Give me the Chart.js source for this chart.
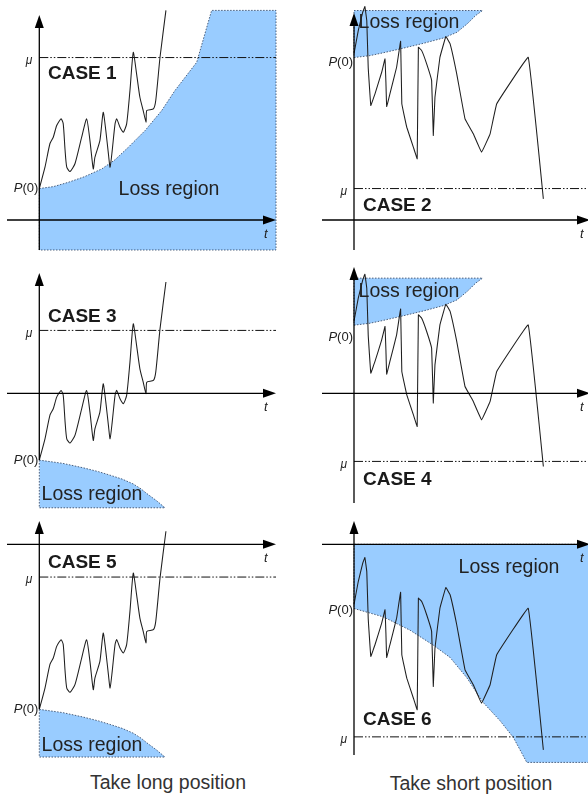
<!DOCTYPE html>
<html><head><meta charset="utf-8">
<script src="https://cdn.jsdelivr.net/npm/chart.js@4.4.1/dist/chart.umd.min.js"></script>
<style>
html,body{margin:0;padding:0;background:#fff;width:588px;height:794px;overflow:hidden;position:relative;font-family:"Liberation Sans",Arial,sans-serif;}
canvas{position:absolute;}
.cap{position:absolute;font-size:19.5px;color:#333;transform:translate(-50%,-50%);white-space:nowrap;}
</style></head><body>
<div class="cap" style="left:168px;top:782px">Take long position</div>
<div class="cap" style="left:471px;top:783px">Take short position</div>
<script>
// ---------- DATA ----------
const caseNames = ["CASE 1","CASE 2","CASE 3","CASE 4","CASE 5","CASE 6"];
const positionSide = ["long","short","long","short","long","short"];
// P(0) and mu, in price units measured from the t axis (price = 0)
const p0Values = [2.4, 12.4, -5.1, 5.2, -12.6, -4.9];
const muValues = [12.4, 2.4, 4.8, -5.2, -2.5, -14.7];
const tickLabelMu = "μ";
const tickLabelT = "t";
const lossLabel = "Loss region";

// Sketched price path for the long position (time, change from P(0))
const longT  = [0,2.4,4.5,5.9,7.35,9.2,10.1,10.9,11.6,13.0,15.1,17.9,20.0,21.4,22.8,23.5,25.6,27.0,28.1,29.2,29.9,30.8,32.0,32.7,34.1,35.5,36.9,38.3,39.7,41.1,42.5,43.9,45.1,45.4,48.2,49.2,51.0,53.5];
const longDP = [0,1.63,3.44,3.92,4.81,5.32,4.96,2.9,1.63,1.30,1.91,3.92,5.32,3.66,1.5,2.39,3.66,5.82,4.43,2.65,1.63,2.9,4.94,5.32,4.68,4.3,4.94,7.48,10.4,8.76,6.97,5.95,5.06,5.95,6.08,6.72,10.02,13.6];
// Sketched price path for the short position
const shortT  = [0,1.8,3.7,4.6,5.4,6.0,7.1,8.9,11.7,13.1,13.5,13.8,15.2,18.0,19.7,20.2,22.3,25.1,26.7,27.2,28.6,30.7,32.8,33.5,34.2,36.3,38.8,40.6,43.4,46.9,50.4,53.9,57.5,60.3,73.6,80.0];
const shortDP = [0.3,2.06,3.46,3.89,2.82,-0.74,-3.66,-2.75,-1.12,-0.1,-1.98,-3.74,-2.75,-0.74,1.24,-3.53,-5.32,-6.85,-7.73,0.79,0.53,-0.48,-1.76,-5.95,-3.03,0.02,1.6,1.05,-1.24,-4.68,-5.82,-7.23,-5.82,-3.53,0.02,-10.79];

// Loss region boundaries (time, change from P(0))
const lossUpLongT  = [0,6,12.3,19,26.4,32,37.6,44.7,51.7,57.3,66.5,72.8,100];
const lossUpLongDP = [0,0.15,0.48,0.9,1.5,2.2,3.15,4.43,5.95,7.48,9.64,13.6,13.6];
const lossDownLongT  = [0,10,18.6,25,29.9,35,39.7,43,45.4,49.6,53.1];
const lossDownLongDP = [0,-0.25,-0.59,-0.88,-1.15,-1.45,-1.82,-2.2,-2.55,-3.11,-3.64];
const lossUpShortT  = [0,6.8,12,19.5,29.4,37.9,43.5,47.8,51.4,54.3];
const lossUpShortDP = [0,0.15,0.35,0.66,1.09,1.5,1.93,2.57,3.21,3.59];
const lossDownShortT  = [0,12.4,23.7,33.5,40.6,47.6,54.6,61.7,67.3,73.0,100];
const lossDownShortDP = [0,-0.64,-1.66,-2.8,-3.74,-5.27,-7.18,-8.57,-9.84,-11.75,-11.75];
const lossKind = ["upLong","upShort","downLong","upShort","downLong","downShort"];
const lossFillTo = [-2.29, 15.99, -8.74, 8.79, -16.24, 0];

// ---------- LAYOUT (pixels) ----------
const LAYOUT = [
  {x:0,  y:0,   w:290,h:258, yAxisX:39.3, xAxisY:220,   yTop:15,  yBot:250, xLeft:7,   xTip:276, cx:48, cy:74,  lx:169, ly:190, pdy:0},
  {x:300,y:0,   w:288,h:258, yAxisX:354,  xAxisY:220,   yTop:13,  yBot:250, xLeft:322, xTip:590, cx:363,cy:206, lx:409, ly:23,  pdy:5},
  {x:0,  y:258, w:290,h:258, yAxisX:39.3, xAxisY:393.3, yTop:273, yBot:460, xLeft:7,   xTip:276, cx:48, cy:317, lx:92,  ly:495, pdy:0},
  {x:300,y:258, w:288,h:258, yAxisX:354,  xAxisY:393.3, yTop:267, yBot:503, xLeft:322, xTip:590, cx:363,cy:480, lx:409, ly:292, pdy:12},
  {x:0,  y:516, w:290,h:252, yAxisX:39.3, xAxisY:544.3, yTop:521, yBot:709, xLeft:7,   xTip:276, cx:48, cy:563, lx:92,  ly:746, pdy:0},
  {x:300,y:516, w:288,h:252, yAxisX:354,  xAxisY:544.3, yTop:521, yBot:755, xLeft:322, xTip:590, cx:363,cy:720, lx:509, ly:568, pdy:2}
];
const SX = 2.367, SY = 13.1;
const FONT = '"Liberation Sans", Arial, sans-serif';

function lossArrays(kind){
  if (kind==="upLong") return [lossUpLongT, lossUpLongDP];
  if (kind==="downLong") return [lossDownLongT, lossDownLongDP];
  if (kind==="upShort") return [lossUpShortT, lossUpShortDP];
  return [lossDownShortT, lossDownShortDP];
}

function makePanel(i){
  const L = LAYOUT[i];
  const cv = document.createElement('canvas');
  cv.width = L.w; cv.height = L.h;
  cv.style.left = L.x+'px'; cv.style.top = L.y+'px';
  cv.style.width = L.w+'px'; cv.style.height = L.h+'px';
  document.body.appendChild(cv);

  const p0 = p0Values[i], mu = muValues[i];
  const [lt, ldp] = lossArrays(lossKind[i]);
  const boundary = lt.map((t,k)=>({x:t, y:p0+ldp[k]}));
  const fillTo = lossFillTo[i];
  const lastT = lt[lt.length-1];
  const outline = boundary.concat([{x:lastT,y:fillTo},{x:0,y:fillTo},{x:0,y:p0}]);
  const pt = positionSide[i]==="long" ? longT : shortT;
  const pdp = positionSide[i]==="long" ? longDP : shortDP;
  const path = pt.map((t,k)=>({x:t, y:p0+pdp[k]}));

  const deco = {
    id:'deco'+i,
    afterDatasetsDraw(chart){
      const ctx = chart.ctx;
      const xs = chart.scales.x, ys = chart.scales.y;
      const ax = xs.getPixelForValue(0), ay = ys.getPixelForValue(0);
      const yTop = L.yTop - L.y, yBot = L.yBot - L.y;
      const xLeft = L.xLeft - L.x, xTip = L.xTip - L.x;
      ctx.save();
      ctx.strokeStyle = '#000'; ctx.fillStyle = '#000'; ctx.lineWidth = 1.3;
      // y axis
      ctx.beginPath(); ctx.moveTo(ax, yBot); ctx.lineTo(ax, yTop+10); ctx.stroke();
      ctx.beginPath(); ctx.moveTo(ax, yTop); ctx.lineTo(ax-4.5, yTop+13); ctx.lineTo(ax+4.5, yTop+13); ctx.closePath(); ctx.fill();
      // x axis
      ctx.beginPath(); ctx.moveTo(xLeft, ay); ctx.lineTo(xTip-10, ay); ctx.stroke();
      ctx.beginPath(); ctx.moveTo(xTip, ay); ctx.lineTo(xTip-13, ay-4.5); ctx.lineTo(xTip-13, ay+4.5); ctx.closePath(); ctx.fill();
      // labels
      ctx.fillStyle = '#222';
      ctx.textBaseline = 'middle';
      // t
      ctx.font = 'italic 13px '+FONT; ctx.textAlign = 'left';
      const tx = positionSide[i]==="long" ? 264 : L.w - 8;
      ctx.fillText(tickLabelT, tx, ay + 14);
      // mu
      const muY = ys.getPixelForValue(mu);
      ctx.font = 'italic 12px '+FONT; ctx.textAlign = 'right';
      ctx.fillText(tickLabelMu, ax - 7, muY + 3);
      // P(0)
      const pY = ys.getPixelForValue(p0) + L.pdy;
      ctx.font = '13px '+FONT; ctx.textAlign = 'right';
      const rx = ax - 1;
      ctx.fillText('(0)', rx, pY);
      const w0 = ctx.measureText('(0)').width;
      ctx.font = 'italic 13px '+FONT;
      ctx.fillText('P', rx - w0, pY);
      // CASE
      ctx.fillStyle = '#1a1a1a';
      ctx.font = 'bold 19px '+FONT; ctx.textAlign = 'left';
      ctx.fillText(caseNames[i], L.cx - L.x, L.cy - L.y);
      // Loss region
      ctx.fillStyle = '#222';
      ctx.font = '19.5px '+FONT; ctx.textAlign = 'center';
      ctx.fillText(lossLabel, L.lx - L.x, L.ly - L.y);
      ctx.restore();
    }
  };

  new Chart(cv, {
    type: 'scatter',
    data: { datasets: [
      { data: path, showLine: true, borderColor: '#1e1e1e', borderWidth: 1.05, pointRadius: 0,
        tension: positionSide[i]==="long" ? 0.2 : 0.05, fill: false, order: 1 },
      { data: [{x:0,y:mu},{x:100,y:mu}], showLine: true, borderColor: '#111', borderWidth: 1,
        borderDash: [9,2,1.5,2,1.5,2], pointRadius: 0, fill: false, order: 2 },
      { data: outline, showLine: true, borderColor: 'rgba(60,80,110,0.9)', borderWidth: 1,
        borderDash: [1.5,1.5], pointRadius: 0, fill: false, order: 3 },
      { data: boundary, showLine: true, borderColor: 'rgba(0,0,0,0)', borderWidth: 0, pointRadius: 0,
        backgroundColor: '#99ccff', fill: {value: fillTo}, order: 4 }
    ]},
    options: {
      responsive: false, animation: false, devicePixelRatio: 1, events: [],
      layout: { padding: 0 },
      plugins: { legend: {display:false}, tooltip: {enabled:false} },
      scales: {
        x: { type:'linear', display:false, min:(L.x - L.yAxisX)/SX, max:(L.x + L.w - L.yAxisX)/SX },
        y: { type:'linear', display:false, min:(L.xAxisY - (L.y + L.h))/SY, max:(L.xAxisY - L.y)/SY }
      }
    },
    plugins: [deco]
  });
}
for (let i=0;i<6;i++) makePanel(i);
</script>
</body></html>
